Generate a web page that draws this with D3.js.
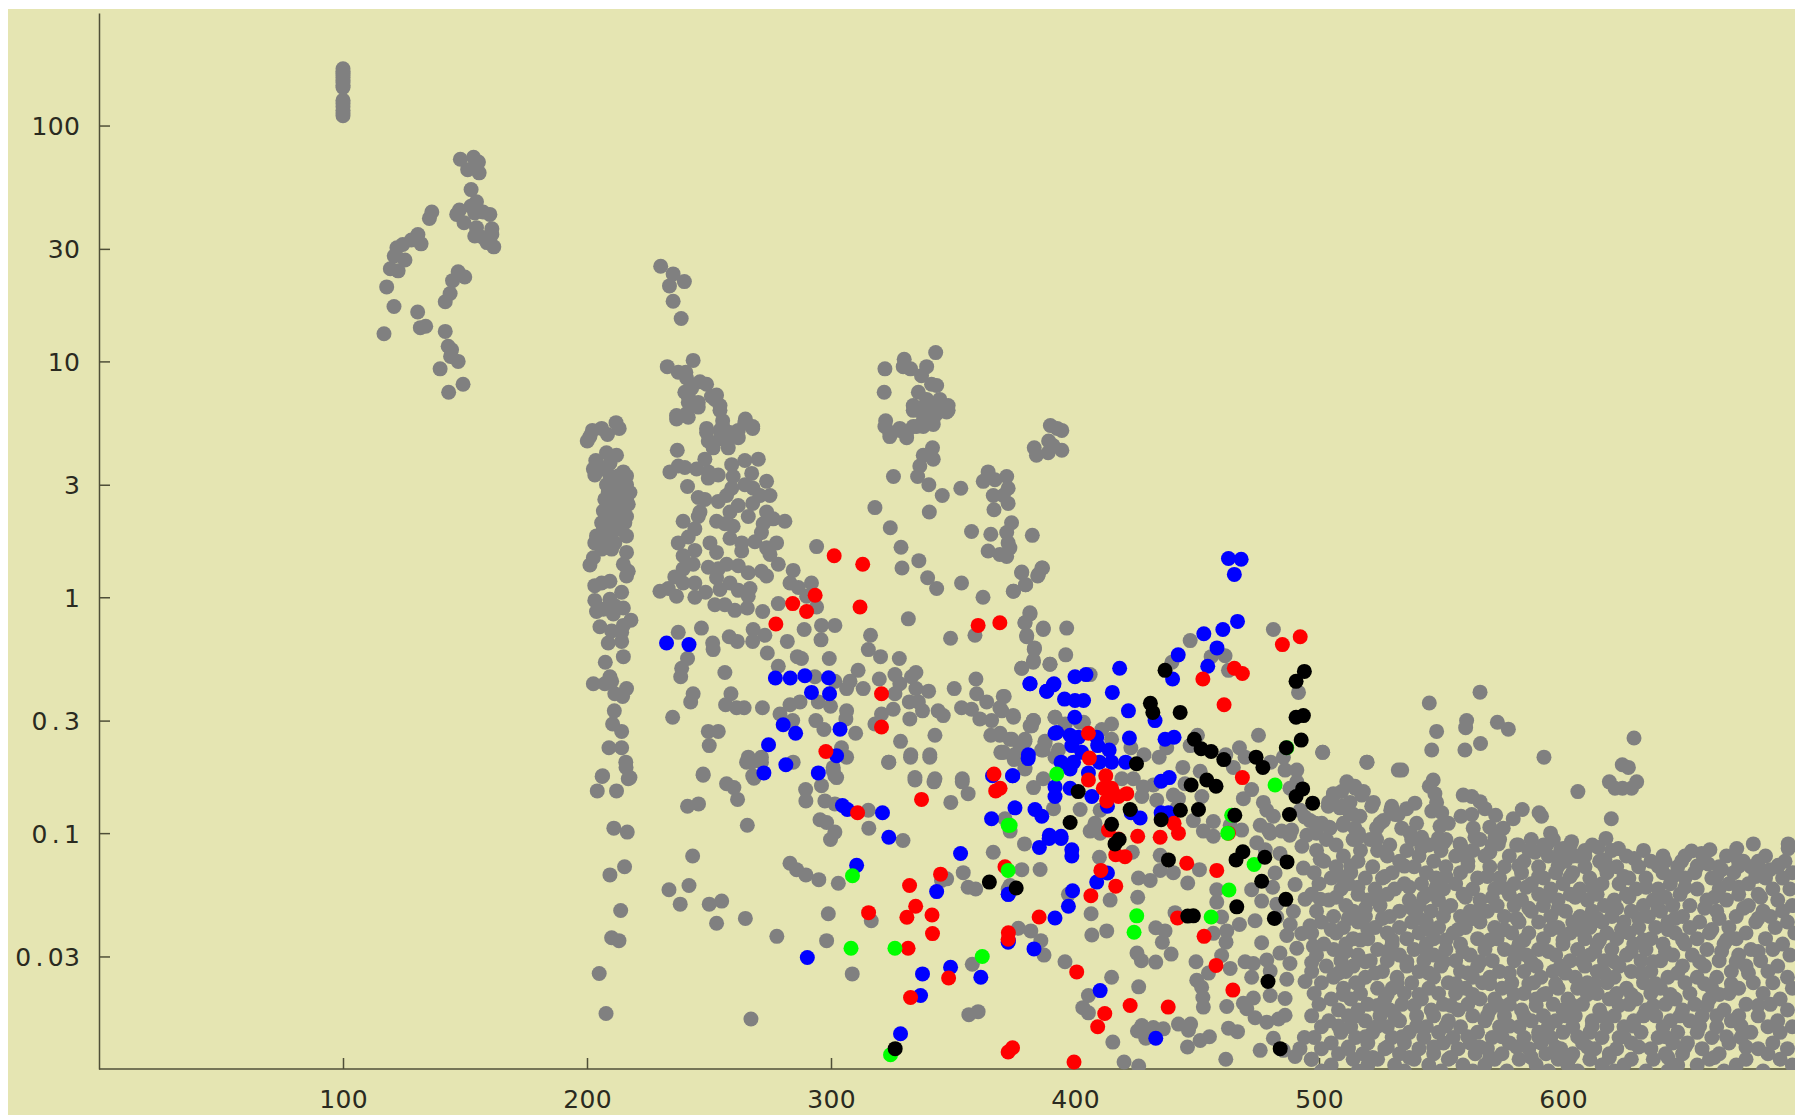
<!DOCTYPE html>
<html><head><meta charset="utf-8">
<style>html,body{margin:0;padding:0;background:#fff;overflow:hidden}svg{display:block}</style>
<script src="https://cdnjs.cloudflare.com/ajax/libs/d3/7.8.5/d3.min.js"></script></head>
<body><div id="chart"></div>
<script>
const xTicks=[100,200,300,400,500,600];
const yTicks=[100,30,10,3,1,0.3,0.1,0.03];
const yTickLabels=["100","30","10","3","1","0.3","0.1","0.03"];

const grayTop=[[100,174],[100,170],[100,167],[100,163],[100,160],[100,156],[100,152],[100,148],[100,145],[100,128],[100,124],[100,120],[100,116],[100,113],[100,110],
[148.1,72],[153.5,73.4],[155.5,70],[151.1,65],[154,67],[155.8,63],[152.5,53.5],[154.7,47.5],[152.4,45.5],[146.6,42],[147.7,43.8],[149.6,38.7],[154,42.6],[160.2,42],[157.4,43],[154.7,36.9],[154,34],[161,36.5],[161,34.5],[157.4,33.5],[159,31.9],[161.8,30.6],[136.4,43],[135.4,40.4],[130.7,34.5],[132,31.5],[128,32.7],[124.5,31.3],[122.1,30.3],[121,28],[125.4,26.9],[119.4,24.7],[122.6,24.2],[117.9,20.7],[147.2,24],[149.9,22.8],[144.9,22],[143.9,19.4],[141.9,17.9],[120.9,17.1],[130.6,16.2],[131.7,13.9],[133.9,14.1],[116.8,13.1],[141.9,13.4],[143.1,11.6],[144.5,11.2],[144.1,10.5],[147.2,10],[139.8,9.3],[149.2,8],[143.3,7.4]];

const grayMidTop=[[230.2,25.3],[235.3,23.5],[239.9,21.8],[233.8,20.9],[235.3,18],[238.6,15.2],[232.9,9.5],[243.5,10.1],[237.4,9],[240.5,9],[240.8,8.5],[246.3,8.2],[249,8],[242.9,7.7],[253.1,7.2],[251,7.1],[241.5,7.1],[245.6,6.7],[241.5,6.7],[254.5,6.5],[240.8,6],[236.7,5.9],[255.6,5.6],[264.9,5.7],[267.9,5.3],[249,5.2],[254.5,5.1],[262,5.1],[258.6,5],
[322.1,9.3],[330,10.2],[329.6,9.5],[342.9,10.9],[339.2,9.5],[332.6,9.3],[337.1,8.7],[341.2,8],[343.3,7.9],[321.8,7.4],[335.8,7.4],[339.2,6.9],[344.6,6.9],[333.7,6.5],[348,6.5],[341.9,6.6],[337.1,6.1],[344.6,6.3],[347.4,6.1],[341.9,5.7],[322.4,5.6],[337.8,5.6],[333.7,5.3],[328.2,5.2],[324.1,5],[331,5],[335.1,5.3],[339.2,5.9],
[389.9,5.35],[392.7,5.2],[394.6,5.1],[389.2,4.6],[383.3,4.3],[384.2,4],[394.6,4.2],[391,4.4],[389,4.1]];

const grayLeftColumn=[[211.9,5.5],[213.2,5.2],[206,5.2],[202.2,5.1],[200.1,4.6],[201.2,4.8],[208.4,4.9],[208,4.1],[203.6,3.8],[212.1,4],[202.6,3.5],[203.2,3.3],[206,3.5],[214.9,3.4],[209.4,3.7],
[209.4,3.27],[212.8,3.27],[216.2,3.27],[208,3],[212.1,3],[216.2,3],[208.7,2.78],[213.5,2.78],[217.6,2.78],[207.3,2.6],[211.4,2.6],[216.2,2.6],[208.7,2.48],[214.2,2.48],[216.9,2.48],[206.7,2.32],[210.8,2.32],[214.9,2.32],[208,2.2],[212.1,2.2],[216.2,2.2],[206,2.07],[210.1,2.07],[215.5,2.07],[206.7,1.94],[212.1,1.94],[203.9,1.82],[208.7,1.82],[216.2,1.82],[203.2,1.7],[207.3,1.7],[211.4,1.7],[206,1.6],[210.1,1.6],[216.2,1.55],[202.6,1.47],[201.2,1.37],[214.9,1.38],[216.9,1.29],[216.2,1.23],[209.4,1.17],[206,1.15],[203.2,1.12],[214.2,1.05],[203.2,.97],[209.4,.98],[203.9,.87],[206.7,.89],[211.4,.92],[214.9,.9],[210.8,.85],[218,.8],[214.9,.76],[205.3,.75],[210.1,.72],[208.7,.64],[214.2,.65],[214.2,.71],[214.9,.56],[207.5,.53],[202.6,.43],[207.3,.43],[209.4,.46],[210.1,.44],[216.2,.41],[211.4,.39],[214.6,.38],[211.2,.33],[210.5,.29],[214.2,.27],[209,.23],[214.2,.23],[216,.19],[206.4,.175],[217.6,.172],
[215.9,.2],[206.2,.174],[216.9,.17],[204.2,.151],[212.1,.151],[211,.105],[216.5,.101],[215.4,.072],[209.4,.0665],[213.8,.047],[210.1,.036],[213.1,.035],[205,.0254],[207.8,.0172]];

const graySecondBlock=[[240.1,7.4],[236.7,5.7],[241.5,5.8],[245.6,6.4],[252.4,6.9],[254.5,6.2],[249,5],[255.6,5.3],[264.7,5.5],[267.9,5.2],[262,4.75],[257.9,4.7],[249.7,4.6],[254.5,4.7],[257.9,4.3],[251.7,4.3],[237,4.2],[248.3,3.85],[270.2,3.85],[264.7,3.8],[259.3,3.65],[237.4,3.6],[234,3.4],[240.1,3.55],[244.9,3.5],[249.7,3.4],[253.8,3.3],[249.7,3.2],[259.9,3.25],[267.5,3.35],[273.6,3.1],[264.7,3],[268.1,2.9],[241.2,2.95],[259.3,2.9],[257.2,2.7],[245.6,2.65],[248.3,2.6],[253.8,2.55],[270.9,2.7],[275,2.7],[267.9,2.5],[262,2.45],[258.6,2.3],[246.3,2.3],[273.6,2.3],[239.4,2.1],[245.6,2.2],[266.1,2.2],[253.1,2.1],[256.5,2.05],[259.9,2],[276.3,2.15],[281.1,2.1],[272.2,2.05],[244.2,1.95],[241.5,1.8],[258.6,1.78],[271.5,1.88],[268.8,1.72],[237.4,1.7],[250.4,1.7],[263.4,1.7],[277.7,1.7],[273.6,1.62],[244.2,1.58],[263.4,1.57],[253.1,1.55],[275,1.52],[239.4,1.5],[243.5,1.38],[249.7,1.34],[239.4,1.32],[257.2,1.38],[262,1.36],[266.1,1.27],[253.8,1.32],[271.5,1.29],[278.4,1.38],[273.6,1.23],[236,1.22],[244.2,1.15],[239.4,1.15],[253.1,1.21],[258.6,1.15],[229.9,1.06],[233.3,1.09],[236.7,1.01],[244.2,1],[248.6,1.05],[254.5,1.08],[262,1.07],[266.8,1.09],[266.1,1.01],[252.4,.93],[256.5,.93],[260.6,.88],[265.7,.9],[272,.87],[284.5,1.3],[283.2,1.15],[286.6,1.1],[292,1.15],[278.4,.94],[294.1,.91],[290,1.01],[294.1,1.64]];

const grayMiddle=[[237.4,.71],[246.9,.74],[258.3,.68],[261.6,.65],[251.5,.64],[251.7,.6],[268.1,.73],[267.9,.65],[272.9,.69],[282.1,.65],[289,.73],[296.1,.76],[301.6,.76],[295.9,.66],[316.2,.69],[331.7,.81],[315.3,.6],[320.3,.56],[328,.55],[273.9,.58],[286.2,.56],[287.9,.55],[299.3,.55],[241.2,.55],[238.8,.5],[238.4,.46],[256.5,.48],[278.4,.51],[293.4,.46],[311.1,.49],[301.6,.44],[307.8,.44],[306.4,.41],[313.2,.41],[319.8,.45],[326.2,.47],[328.2,.43],[326.2,.39],[334.8,.48],[333,.46],[334.8,.41],[340,.4],[350.5,.41],[359.4,.45],[378.1,.5],[382.9,.53],[389.7,.52],[383.3,.6],[243.5,.39],[242.5,.36],[259,.39],[256.8,.35],[261.3,.34],[264.4,.34],[271.9,.34],[235.1,.31],[279.1,.32],[283.2,.35],[287.3,.36],[294.8,.36],[299.8,.345],[306.4,.33],[306.1,.305],[284.3,.3],[293.8,.3],[297.1,.275],[310.1,.265],[320.7,.32],[318,.29],[325.5,.335],[332.1,.36],[335.8,.36],[337.5,.33],[332.3,.305],[343.9,.33],[346,.315],[353.5,.34],[357.6,.335],[359.7,.39],[363.8,.36],[361,.305],[365.8,.3],[370.6,.38],[369.2,.34],[374.7,.315],[382.9,.3],[382.2,.285],[391.8,.31],[249.7,.27],[253.8,.27],[250.1,.235],[342.6,.26],[328.5,.245],[365.5,.26],[369.2,.26],[373.3,.25],[379.5,.245],[377.4,.235],[387.7,.24],[386.3,.225],[369.6,.22],[375.1,.205],[332.7,.215],[340.5,.215],[323.6,.2],[304.3,.23],[306.4,.21],[300.9,.19],[301.6,.175],[266.1,.21],[271.5,.21],[284.5,.2],[267.9,.175],[247.6,.178],[334.4,.172],[342.6,.17],[353.8,.17],[379.5,.187],
[337.8,6.4],[333.7,6.2],[341.9,6.5],[348,6.2],[343.3,6],[322.1,5.3],[328.2,5.1],[324.1,4.8],[331,4.75],[337.8,5.3],[341.9,5.4],[341.6,4.3],[337.8,4],[341.9,3.85],[336.4,3.6],[335.5,3.25],[340.1,3],[325.6,3.25],[345.6,2.7],[353.2,2.9],[318,2.4],[324.3,1.97],[340.3,2.3],[328.7,1.63],[336,1.43],[329.1,1.33],[339.6,1.21],[343.3,1.09],[353.5,1.15],[362.3,1],[349,.67],[359,.69],[364.4,3.4],[372,3.25],[362.4,3.1],[367.2,3.15],[372.6,2.9],[366.5,2.7],[370.6,2.7],[372.6,2.5],[366.8,2.35],[374,2.07],[372,1.88],[372.6,1.7],[357.6,1.9],[365.5,1.85],[382.5,1.83],[364.4,1.57],[369.2,1.52],[372,1.49],[373.3,1.62],[378.1,1.27],[386.7,1.33],[384.7,1.23],[379.7,1.13],[374.7,1.06],[381.5,.86],[379.5,.78],[387,.74],[380.2,.69]];

const grayLower=[[247.6,.176],[243.3,.08],[241.2,.13],[245.7,.133],[257.2,.162],[260.2,.156],[261.7,.139],[268.4,.171],[265.7,.108],[265.4,.2],[267.5,.2],[271.5,.2],[233.6,.0575],[241.8,.06],[238.2,.05],[250.1,.05],[255.2,.0515],[253.1,.0415],[264.9,.0435],[277.8,.0365],[267.2,.0163],[289.6,.153],[289.7,.137],[296.1,.159],[297.5,.137],[301.6,.133],[300.9,.184],[302.3,.172],[295.5,.114],[298.2,.111],[301.6,.101],[299.8,.094],[283.2,.0745],[285.9,.07],[289.7,.0665],[295,.0635],[303,.0613],[298.9,.0455],[315.3,.125],[315.5,.105],[329.5,.093],[316.5,.0425],[298.2,.035],[308.7,.0253],[323.7,.2],[332.6,.21],[340.5,.21],[334.4,.168],[342.2,.165],[353.8,.165],[356.2,.147],[349.1,.135],[357.9,.0278],[356.5,.017],[360.3,.0175],[354.2,.068],[345.3,.063],[347.4,.064],[356.2,.059],[359.3,.058],[366.5,.083],[371.3,.115],[372.6,.058]];

const grayCentre=[[378.2,1.28],[379.8,1.13],[374.8,1.06],[386.4,1.33],[385,1.25],[381.6,.85],[379.5,.78],[380.2,.68],[387,.73],[396.6,.74],[383.4,.61],[383,.54],[396.2,.57],[389.8,.52],[378.2,.5],[406.2,.47],[371,.38],[370,.33],[374.8,.31],[383,.3],[381.6,.285],[391.8,.31],[396,.29],[403.5,.295],[411,.275],[415,.29],[415,.25],[369.3,.265],[374.1,.25],[379.5,.25],[387.7,.245],[387,.225],[370.7,.22],[375.2,.215],[379.5,.19],[393.2,.225],[391.8,.21],[402,.295],[422.9,.23],[428.3,.215],[434.5,.21],[437.6,.23],[447.2,.235],[450.2,.26],[444.2,.19],[451.3,.183],[439.7,.53],[447.2,.655],[455.8,.56],[461.5,.565],[462.9,.49],[481.3,.73],[491.6,.395],[475.2,.26],[501.5,.22],[519.6,.2],[467.4,.23],[469.7,.21],[461.8,.215],[480.2,.2],[485.4,.21],[490.9,.185],[486.1,.185],[464.9,.19],[532.5,.185],[529.8,.13],[522.3,.135],[518.2,.15],[511.4,.165],[514.8,.155],[505.9,.145],[503.9,.135],[509.3,.13],[514.1,.12],[510,.11],[516.2,.1],[498.4,.11],[504.5,.105],[525,.11],[531.2,.12],[383,.156],[387,.17],[419.2,.17],[423.9,.17],[428,.157],[432.1,.16],[427.4,.143],[433.5,.138],[440.3,.145],[442.4,.14],[445.1,.162],[452,.143],[441.7,.127],[448.5,.113],[456.7,.112],[452.6,.102],[456.7,.097],[463.6,.108],[468.3,.103],[469,.14],[472.4,.153],[477.2,.135],[478.6,.125],[475.9,.108],[481.3,.118],[479.3,.103],[484.7,.102],[490.9,.165],[488.1,.155],[492.3,.125],[496.3,.113],[488.8,.103],[495,.098],[501.1,.11],[402.1,.126],[391.2,.127],[408.2,.11],[406.2,.102],[410.3,.125],[410.3,.1],[373.4,.102],[370,.22]];

const grayLowerCentre=[[379.3,.09],[385.7,.0701],[378.2,.07],[373.4,.06],[397.3,.055],[410,.079],[414.4,.052],[406.6,.0455],[376.8,.0395],[381.9,.0385],[386,.035],[387.3,.0304],[395.9,.0285],[406.9,.037],[413,.0385],[426,.0645],[430.8,.063],[425.7,.0535],[423.5,.083],[434.9,.0805],[434.9,.0695],[440.3,.068],[451,.07],[446.2,.0615],[441,.046],[433.1,.0397],[436.9,.0385],[435.8,.0345],[439.4,.0307],[425.4,.031],[427.2,.0288],[433.1,.0284],[415,.0245],[426.1,.0223],[405.5,.0205],[403.2,.0182],[405.5,.0173],[415.5,.013],[427.4,.0153],[425.6,.0145],[429,.0135],[432.1,.015],[436.2,.0148],[442.4,.0155],[447.4,.0155],[446.5,.0146],[451.3,.0132],[455.1,.0137],[446.1,.0124],[420.1,.0107],[426.1,.0103],[461.8,.011],[462.9,.0149],[466.6,.0144],[462.2,.0184],[449.6,.0285],[449.9,.0238],[451.9,.0222],[452.4,.0201],[452.6,.0183],[454.7,.0255],[460.1,.0303],[463.6,.0267],[456.7,.0376],[462.2,.0385],[461.9,.0345],[460.1,.0441],[467.4,.041],[458.1,.0575],[458.1,.051],[472.4,.0575],[476.5,.0515],[481,.059],[474.5,.091],[482,.0678],[473.8,.0425],[476.5,.0343],[469.7,.0285],[473.1,.028],[478.6,.029],[484,.031],[488.1,.028],[472.4,.0245],[480,.026],[486.8,.024],[494.3,.0235],[473.1,.02],[480,.0205],[486.1,.0199],[470.4,.018],[473.8,.0165],[478.6,.0158],[483.4,.0163],[486.1,.0169],[475.9,.012],[481.3,.0135],[485.4,.012],[490.2,.0113],[492.2,.0122],[494,.0136],[496.8,.011],[469,.019],[482.7,.0441],[488.2,.041],[486.8,.0368],[492.9,.0375],[496.3,.0405],[490.9,.0325],[497.7,.0332],[497,.0283],[490.2,.0606],[494.3,.0525],[489.5,.0465],[482.7,.05],[500.5,.0525],[493.6,.0711],[500.5,.0775],[480,.1],[488,.098],[493,.088],[478,.085],[484,.082]];

const grayRightUpper=[[501.5,.22],[519.7,.2],[533.9,.185],[545.2,.356],[566,.396],[560.5,.3],[560.1,.28],[548.2,.27],[573.1,.295],[577.6,.276],[546.2,.225],[559.8,.225],[566.2,.24],[592.2,.21],[629.1,.253],[624.3,.195],[626.8,.19],[619,.165],[630.2,.165],[621.3,.155],[624.4,.155],[628.1,.155],[606.1,.15],[619.8,.115],[546.8,.168],[545.2,.158],[547.5,.147],[548.2,.135],[546.2,.124],[550.3,.122],[559.1,.145],[562.6,.143],[566,.136],[568,.127],[572.4,.119],[562.6,.12],[558.2,.118],[583.3,.126],[590.2,.122],[591.2,.118],[579.6,.115],[511.7,.162],[514.7,.158],[505.9,.147],[509.3,.15],[517.5,.145],[521.6,.13],[512.7,.135],[508.6,.128],[503.8,.13],[516.8,.118],[512.7,.122],[539.3,.134],[535.9,.127],[529.4,.125],[532.5,.12],[526.4,.113],[523.6,.105],[509.9,.108],[516.1,.096],[514.7,.105],[504.2,.106],[498.3,.11],[499,.1],[494.2,.117],[533.9,.105],[537.3,.1],[540,.11],[542.1,.096],[549.6,.107],[553,.11],[548.9,.095],[551,.091],[523.6,.094],[542.1,.087],[557.8,.09],[560.5,.08],[563.2,.105],[563.9,.096],[570,.106],[575.5,.105],[572.1,.096],[573.5,.09],[570,.083],[581.7,.089],[594.9,.1],[593.3,.089],[603.5,.092],[600.1,.086],[588.5,.083],[609,.08],[614.5,.087],[617.6,.095],[622.7,.086],[617.2,.077],[598.8,.078],[604.2,.08],[629.2,.078],[652.7,.084],[660.2,.085],[656.8,.082],[671.2,.086],[678,.09],[692.3,.09],[692.3,.086],[641.8,.076],[648.6,.076],[659.5,.074],[673.9,.076],[670.5,.08],[665,.07],[680.7,.07],[688.2,.073],[684.8,.07]];

const denseRowValues=[.094,.089,.0845,.08,.076,.072,.068,.0645,.061,.058,.055,.052,.0493,.0467,.0443,.042,.0398,.0377,.0357,.0339,.0321,.0304,.0288,.0273,.0259,.0245,.0232,.022,.0209,.0198,.0188,.0178,.0168,.016,.0151,.0143,.0136,.0129,.0122,.0116,.011,.0104,.0098,
.0725,.0655,.059,.0535,.048,.0435,.039,.0352,.0315,.0285,.0255,.023,.0207,.0186,.0168,.0152,.0137,.0124,.0112];
const denseRowX=[
[503,514,521,538,552,566,574,587,596],
[507,529,545,558,571,581,592,603,612],
[499,517,524,536,550,563,586,599,609,620,633],
[510,528,541,556,568,578,594,606,626,641,650,667,683],
[502,516,533,547,561,584,601,615,636,658,672,680,691],
[507,522,539,552,570,576,590,609,622,631,647,664,677,688],
[498,513,530,544,558,583,597,604,618,641,654,670,694],
[505,519,526,548,565,574,592,611,627,634,650,661,683,690],
[500,512,535,542,556,580,587,600,616,623,644,668,676],
[509,523,531,551,563,572,595,607,630,639,655,664,686,693],
[497,516,528,545,559,578,590,603,614,626,648,672,680],
[504,520,537,549,566,583,598,610,621,637,659,667,688],
[511,525,541,554,573,580,592,617,633,645,652,676,694],
[499,514,533,546,562,569,587,601,612,628,640,663,682,690],
[506,519,529,551,558,576,595,607,620,635,649,671,685],
[501,516,538,544,566,582,590,604,616,625,643,656,679,692],
[510,523,533,549,560,572,598,611,631,638,652,668,687],
[497,507,528,541,555,579,586,603,618,627,646,660,675,695],
[514,520,536,547,565,573,592,609,622,636,655,671,683],
[502,511,530,544,558,582,600,614,629,641,650,666,690],
[506,524,539,552,568,576,590,606,620,634,659,677,686],
[499,516,533,547,562,585,597,611,626,645,653,672,693],
[509,521,528,543,556,571,580,603,617,632,640,664,681],
[503,514,536,550,565,589,599,609,623,649,658,675,688],
[497,511,526,541,558,574,584,596,614,628,636,669,684],
[506,519,532,547,563,570,591,605,621,643,655,663,692],
[501,515,538,553,567,579,588,610,618,633,650,678,686],
[510,524,530,545,560,575,598,606,626,640,661,672,694],
[498,517,535,549,556,584,593,614,622,636,652,668,682],
[505,513,527,542,566,572,589,602,619,630,646,660,689],
[500,520,534,551,561,578,596,608,627,642,654,675,685],
[508,516,529,546,557,570,583,600,615,634,649,666,692],
[497,512,525,540,563,576,592,605,621,638,657,672,680],
[504,519,533,553,568,587,597,612,629,644,652,669,688],
[501,513,528,544,558,574,582,604,618,625,641,663,684,694],
[509,522,537,549,565,590,600,611,632,647,655,677,689],
[498,515,530,543,555,571,584,595,616,623,639,661,673],
[505,520,535,551,562,578,591,608,628,645,651,668,686],
[501,512,527,541,557,569,586,599,613,622,636,657,680,692],
[508,518,533,547,564,575,593,604,619,642,649,664,684],
[497,514,524,539,553,572,582,598,611,628,637,660,675,689],
[505,520,531,545,559,568,589,602,616,625,647,655,671,694],
[501,516,535,550,563,577,594,606,621,634,643,666,682],
[513,535,561,582,598,617,639,655,672],
[509,527,552,569,590,603,625,645,663,679],
[516,537,548,575,585,612,634,650,672],
[507,525,543,560,571,593,605,627,642,662,681],
[519,538,552,566,586,598,622,639,658,674],
[512,526,541,563,581,609,614,631,646,664,680],
[505,520,545,557,576,595,607,624,643,661],
[517,530,552,570,584,600,615,633,649,667],
[511,528,544,559,580,594,613,628,642,665,680],
[519,536,551,566,587,608,621,637,656,671],
[508,523,545,561,578,601,617,632,647,676],
[516,532,556,570,586,597,613,638,658,669],
[510,528,541,563,580,592,610,628,644,664],
[524,539,554,574,589,604,623,637,659,680],
[515,531,547,569,584,601,616,633,648,663],
[508,524,540,552,578,594,612,629,656,673],
[519,534,561,575,590,606,625,642,667],
[512,528,547,566,581,597,610,631,650,675],
[522,537,554,570,587,603,619,643,662]];

const bluePoints=[[232.6,.64],[241.8,.63],[277.2,.455],[283.3,.455],[289.3,.465],[299,.456],[292,.395],[299.4,.39],[280.4,.288],[285.5,.265],[303.7,.276],[274.4,.237],[281.5,.195],[302.3,.213],[294.8,.18],[272.5,.18],[381.5,.43],[388.4,.4],[391.1,.425],[380.8,.207],[392.5,.267],[374.4,.175],[366.2,.175],
[304.7,.131],[306.7,.126],[321.1,.122],[323.7,.096],[310.5,.073],[365.8,.115],[343.3,.0565],[353.1,.082],[290.3,.0297],[337.5,.0253],[349,.027],[361.4,.0245],[336.7,.0205],[328.5,.0141],[372.6,.055],[372.6,.0345],
[462.9,1.46],[468.1,1.45],[465.3,1.25],[466.6,.79],[460.6,.73],[452.8,.7],[442.3,.57],[458.2,.61],[454.4,.51],[440,.45],[418.3,.5],[404.5,.47],[400,.46],[381.6,.43],[388.4,.4],[391.4,.43],[395.7,.37],[400,.365],[403.5,.365],[415.3,.395],[421.9,.33],[399.9,.31],[432.8,.3],[391.8,.265],[422.3,.253],[436.9,.25],[440.6,.255],[398,.26],[398.7,.235],[401.4,.255],[408.9,.255],[409.3,.235],[402.8,.22],[414,.225],[380.9,.215],[394.3,.2],[399.4,.2],[398,.187],[410,.2],[415,.2],[420.8,.2],[374.5,.175],[405.5,.18],[391.8,.157],[391.8,.143],[398,.155],[406.9,.143],[375.4,.128],[383.6,.126],[386.4,.118],[413.3,.13],[435.3,.166],[438.6,.172],[426.7,.116],[423,.122],[435.3,.122],[438.3,.122],[389.5,.098],[394.3,.097],
[385.4,.087],[389.4,.095],[394.3,.095],[398.7,.085],[398.7,.08],[372.7,.055],[399,.057],[408.9,.062],[413.3,.0678],[397.3,.049],[391.8,.0437],[372.7,.035],[383.2,.0323],[410.3,.0215],[433.1,.0135]];

const redPoints=[[301.3,1.5],[313,1.38],[293.5,1.02],[284.3,.94],[290,.87],[311.9,.91],[277.4,.77],[360.3,.76],[369.2,.78],[320.7,.39],[320.7,.282],[297.9,.222],[366.8,.178],
[310.9,.122],[337.1,.139],[367.5,.151],[344.9,.067],[332.2,.06],[334.7,.049],[331.1,.044],[315.4,.046],[341.4,.045],[341.6,.0375],[331.6,.0325],[348.2,.0243],[332.6,.0201],[372.6,.0355],[371.3,.072],[372.6,.0118],
[405.5,.265],[405.9,.208],[405.5,.168],[412.6,.175],[411.6,.155],[415,.155],[417.8,.143],[421.2,.147],[413,.137],[452.4,.45],[465.3,.5],[468.6,.475],[461.1,.35],[468.6,.172],[485,.63],[492.3,.68],[440.6,.11],[442.4,.1],[425.7,.097],[434.9,.096],[462.9,.1],[369.3,.155],[413.7,.103],
[410.6,.0695],[416.7,.0596],[406.5,.0543],[385.3,.0441],[372.7,.0378],[400.7,.0258],[442,.0437],[452.9,.0365],[458.1,.0695],[445.8,.0745],[457.8,.0275],[464.7,.0216],[422.6,.0186],[438.2,.0183],[412.2,.0172],[409.3,.0151],[374.4,.0123],[399.6,.0107],[416.7,.081],[420.5,.0795],[417.8,.0945]];

const greenPoints=[[308.8,.066],[308.2,.0325],[326.2,.0325],[362,.03],[372.6,.0695],[372.6,.108],[324.4,.0115],[392.5,.178],[373.4,.108],[482,.16],[464.2,.119],[462.6,.1],[486.8,.23],[425.3,.0446],[424.2,.038],[455.8,.0441],[463.1,.0574],[473.4,.0736]];

const blackPoints=[[364.9,.062],[326.3,.0122],[436.9,.49],[430.9,.355],[431.9,.325],[443.1,.325],[448.9,.25],[451.7,.228],[455.8,.222],[461,.205],[425.2,.197],[447.6,.16],[454,.168],[457.8,.158],[474.2,.21],[477,.19],[486.6,.23],[490.6,.44],[494,.485],[490.6,.31],[493.6,.315],[492.7,.248],[401.3,.15],[422.6,.126],[443.2,.125],[450.6,.126],[465.5,.119],[435.3,.114],[415,.109],[398,.111],[493.3,.154],[490.6,.143],[497.4,.134],[487.9,.12],[416.4,.09],[418.1,.094],[375.9,.0585],[438.3,.077],[468.8,.0834],[466,.077],[477.8,.079],[486.9,.0755],[476.5,.0625],[486.4,.0524],[466.3,.0487],[481.7,.0435],[446.2,.0445],[448.5,.0446],[479.1,.0235],[484.1,.0122]];

const W=1795,H=1116,plotLeft=99,plotBottom=1069,plotTop=13,charPitch=16.3;
const x=d3.scaleLinear().domain([0,100]).range([plotLeft,plotLeft+244]);
const y=d3.scaleLog().domain([0.01,300]).range([plotBottom,plotTop]);

const svg=d3.select("#chart").append("svg").attr("width",W).attr("height",H);
svg.append("rect").attr("x",8).attr("y",9).attr("width",W-8).attr("height",1106).attr("fill","#e5e5b2");
svg.append("defs").append("clipPath").attr("id","plot").append("rect").attr("x",plotLeft).attr("y",0).attr("width",W-plotLeft).attr("height",plotBottom+1);

function spaced(sel,anchorOffset){
  sel.each(function(){
    const t=d3.select(this),s=t.text(),n=s.length;
    const xs=d3.range(n).map(i=>anchorOffset(n)+i*charPitch);
    t.attr("x",xs.join(" ")).attr("text-anchor","middle");
  });
}
const axisStyle=g=>{
  g.select(".domain").attr("stroke","#4f4f38").attr("stroke-width",1.5);
  g.selectAll(".tick line").attr("stroke","#4f4f38").attr("stroke-width",1.5);
  g.selectAll("text").attr("fill","#2a2a20").attr("font-family","'DejaVu Sans',sans-serif").attr("font-size",25);
};
const gx=svg.append("g").attr("transform",`translate(0,${plotBottom})`)
  .call(d3.axisBottom(x).tickValues(xTicks).tickSizeInner(-11).tickSizeOuter(0).tickFormat(d3.format("d")))
  .call(g=>g.select(".domain").attr("d",`M${plotLeft},0H${W}`)).call(axisStyle);
gx.selectAll("text").attr("y",39).attr("dy",0).call(spaced,n=>-(n-1)*charPitch/2);

const gy=svg.append("g").attr("transform",`translate(${plotLeft},0)`)
  .call(d3.axisLeft(y).tickValues(yTicks).tickSizeInner(-11).tickSizeOuter(0).tickFormat((d,i)=>yTickLabels[i]))
  .call(axisStyle);
gy.selectAll("text").attr("dy",0).attr("y",9).call(spaced,n=>-27-(n-1)*charPitch);

const denseGray=denseRowValues.flatMap((v,i)=>denseRowX[i].map(a=>[a,v]));
const gray=[].concat(grayTop,grayMidTop,grayLeftColumn,graySecondBlock,grayMiddle,grayLower,grayCentre,grayLowerCentre,grayRightUpper,denseGray);
const layers=[[gray,"#808080"],[bluePoints,"#0000ff"],[redPoints,"#ff0000"],[greenPoints,"#00ff00"],[blackPoints,"#000000"]];
const plot=svg.append("g").attr("clip-path","url(#plot)");
layers.forEach(([pts,c])=>{
  plot.append("g").attr("fill",c).selectAll("circle").data(pts).join("circle")
    .attr("cx",d=>x(d[0])).attr("cy",d=>y(d[1])).attr("r",7.5);
});
</script></body></html>
